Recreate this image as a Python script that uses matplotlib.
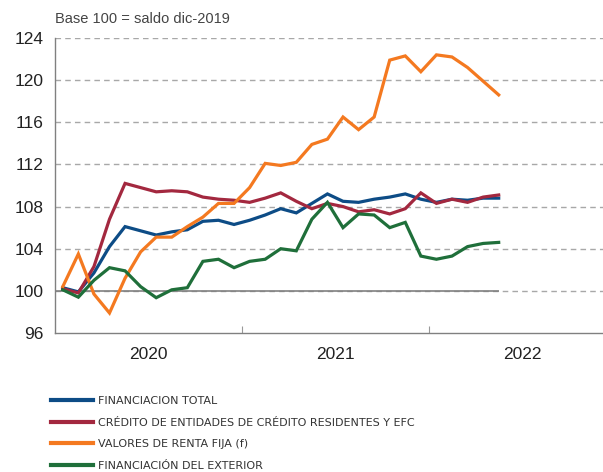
import matplotlib
matplotlib.use("Agg")
import matplotlib.pyplot as plt
import numpy as np

# monthly index, jan-2020 ... may-2022 (base 100 = saldo dic-2019)
months = np.arange(29)

total = [100.3, 99.9, 101.7, 104.2, 106.1, 105.7, 105.3, 105.6, 105.8, 106.6,
         106.7, 106.3, 106.7, 107.2, 107.8, 107.4, 108.3, 109.2, 108.5, 108.4,
         108.7, 108.9, 109.2, 108.7, 108.4, 108.7, 108.6, 108.8, 108.8]
credito = [100.2, 99.8, 102.3, 106.8, 110.2, 109.8, 109.4, 109.5, 109.4, 108.9,
           108.7, 108.6, 108.4, 108.8, 109.3, 108.5, 107.8, 108.3, 108.0, 107.5,
           107.7, 107.3, 107.8, 109.3, 108.3, 108.7, 108.4, 108.9, 109.1]
valores = [100.4, 103.5, 99.7, 97.9, 101.2, 103.7, 105.1, 105.1, 106.1, 107.0,
           108.3, 108.3, 109.8, 112.1, 111.9, 112.2, 113.9, 114.4, 116.5, 115.3,
           116.5, 121.9, 122.3, 120.8, 122.4, 122.2, 121.2, 119.9, 118.6]
exterior = [100.1, 99.4, 101.0, 102.2, 101.9, 100.4, 99.35, 100.1, 100.3, 102.8,
            103.0, 102.2, 102.8, 103.0, 104.0, 103.8, 106.8, 108.4, 106.0, 107.3,
            107.2, 106.0, 106.5, 103.3, 103.0, 103.3, 104.2, 104.5, 104.6]

labels = ["FINANCIACION TOTAL",
          "CRÉDITO DE ENTIDADES DE CRÉDITO RESIDENTES Y EFC",
          "VALORES DE RENTA FIJA (f)",
          "FINANCIACIÓN DEL EXTERIOR"]
colors = ["#0d4c86", "#a3283f", "#f47920", "#1f6f3a"]
years = ["2020", "2021", "2022"]
yticks = [96, 100, 104, 108, 112, 116, 120, 124]

plt.rcParams['font.family'] = ['Liberation Sans', 'DejaVu Sans']

fig = plt.figure(figsize=(6.03, 4.72), dpi=100)
ax = fig.add_axes([55/603, 1-333/472, 1-55/603, (333-38)/472])

x = months + 0.5
for s, lab, c in zip([total, credito, valores, exterior], labels, colors):
    ax.plot(x, s, color=c, lw=2.3, label=lab, solid_joinstyle='miter', zorder=3)

ax.set_xlim(0, 35.2)
ax.set_ylim(96, 124)
ax.set_yticks(yticks)
ax.tick_params(axis='y', length=0, labelsize=12.5, pad=8, labelcolor='#222222')
for yv in yticks[1:]:
    ax.axhline(yv, color='#a8a8a8', lw=1, ls=(0, (4, 3)), zorder=1)
ax.hlines(100, 0, x[-1], color='#808080', lw=1.2, zorder=2)

ax.set_xticks([12, 24])
ax.set_xticklabels([])
ax.set_xticks([6, 18, 30], minor=True)
ax.set_xticklabels(years, minor=True)
ax.tick_params(axis='x', which='major', direction='in', length=5, color='#999999')
ax.tick_params(axis='x', which='minor', length=0, labelsize=12.5, pad=10, labelcolor='#222222')

for side in ['top', 'right']:
    ax.spines[side].set_visible(False)
for side in ['left', 'bottom']:
    ax.spines[side].set_color('#808080')
    ax.spines[side].set_linewidth(1)

fig.text(55/603, 1-19/472, "Base 100 = saldo dic-2019", fontsize=10.5,
         color='#444444', va='center', ha='left')

leg = fig.legend(loc='upper left', bbox_to_anchor=(41/603, 1-386/472),
                 frameon=False, handlelength=3.8, handletextpad=0.4,
                 labelspacing=1.05,
                 prop={'family': ['Liberation Sans Narrow', 'DejaVu Sans'], 'size': 8})
for line in leg.get_lines():
    line.set_linewidth(3)
for t in leg.get_texts():
    t.set_color('#333333')

fig.savefig("out.png", dpi=100)
plt.close(fig)
